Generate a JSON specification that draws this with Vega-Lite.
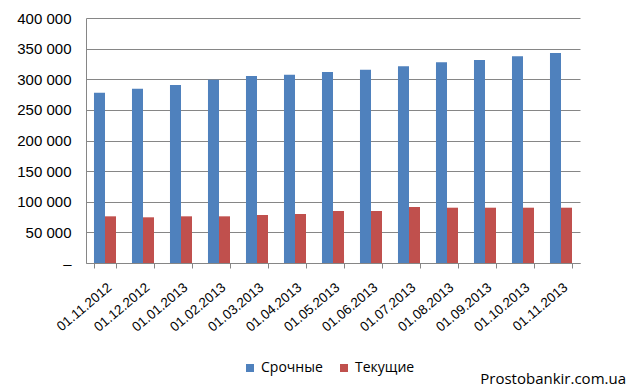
{
  "$schema": "https://vega.github.io/schema/vega-lite/v6.json",
  "width": 494,
  "height": 245,
  "autosize": {"type": "none"},
  "padding": {"left": 86, "top": 18, "right": 60, "bottom": 128},
  "background": "white",
  "config": {"view": {"stroke": null}, "font": "Liberation Sans"},
  "title": {
    "text": "Prostobankir.com.ua",
    "orient": "bottom",
    "anchor": "end",
    "frame": "group",
    "font": "Open Sans",
    "fontSize": 15,
    "fontWeight": "normal",
    "color": "#000000",
    "offset": -3,
    "dx": 46
  },
  "data": {
    "values": [
      {"date": "01.11.2012", "type": "Срочные", "value": 278000},
      {"date": "01.12.2012", "type": "Срочные", "value": 284600},
      {"date": "01.01.2013", "type": "Срочные", "value": 290600},
      {"date": "01.02.2013", "type": "Срочные", "value": 299300},
      {"date": "01.03.2013", "type": "Срочные", "value": 305300},
      {"date": "01.04.2013", "type": "Срочные", "value": 307400},
      {"date": "01.05.2013", "type": "Срочные", "value": 311800},
      {"date": "01.06.2013", "type": "Срочные", "value": 315600},
      {"date": "01.07.2013", "type": "Срочные", "value": 321100},
      {"date": "01.08.2013", "type": "Срочные", "value": 327600},
      {"date": "01.09.2013", "type": "Срочные", "value": 331400},
      {"date": "01.10.2013", "type": "Срочные", "value": 337500},
      {"date": "01.11.2013", "type": "Срочные", "value": 342900},
      {"date": "01.11.2012", "type": "Текущие", "value": 76200},
      {"date": "01.12.2012", "type": "Текущие", "value": 74600},
      {"date": "01.01.2013", "type": "Текущие", "value": 76200},
      {"date": "01.02.2013", "type": "Текущие", "value": 76200},
      {"date": "01.03.2013", "type": "Текущие", "value": 78400},
      {"date": "01.04.2013", "type": "Текущие", "value": 80000},
      {"date": "01.05.2013", "type": "Текущие", "value": 84900},
      {"date": "01.06.2013", "type": "Текущие", "value": 84900},
      {"date": "01.07.2013", "type": "Текущие", "value": 91400},
      {"date": "01.08.2013", "type": "Текущие", "value": 90300},
      {"date": "01.09.2013", "type": "Текущие", "value": 90300},
      {"date": "01.10.2013", "type": "Текущие", "value": 90300},
      {"date": "01.11.2013", "type": "Текущие", "value": 90300}
    ]
  },
  "mark": {"type": "bar"},
  "encoding": {
    "x": {
      "field": "date",
      "type": "nominal",
      "sort": null,
      "scale": {"paddingInner": 0.42, "paddingOuter": 0.21},
      "axis": {
        "title": null,
        "labelAngle": -40,
        "labelFontSize": 13.5,
        "labelColor": "#000000",
        "labelAlign": "right",
        "labelBaseline": "top",
        "tickBand": "extent",
        "tickSize": 5,
        "tickColor": "#868686",
        "domainColor": "#868686",
        "labelPadding": 12
      }
    },
    "xOffset": {"field": "type", "type": "nominal", "sort": ["Срочные", "Текущие"], "scale": {"paddingInner": 0, "paddingOuter": 0}},
    "y": {
      "field": "value",
      "type": "quantitative",
      "scale": {"domain": [0, 400000], "nice": false},
      "axis": {
        "title": null,
        "values": [0, 50000, 100000, 150000, 200000, 250000, 300000, 350000, 400000],
        "labelExpr": "datum.value == 0 ? '–' : replace(format(datum.value, ','), ',', ' ')",
        "labelFontSize": 15,
        "labelColor": "#000000",
        "ticks": false,
        "labelPadding": 15,
        "domainColor": "#868686",
        "gridColor": "#868686",
        "grid": true
      }
    },
    "color": {
      "field": "type",
      "type": "nominal",
      "sort": ["Срочные", "Текущие"],
      "scale": {"domain": ["Срочные", "Текущие"], "range": ["#4F81BD", "#C0504D"]},
      "legend": {
        "title": null,
        "orient": "none",
        "direction": "horizontal",
        "legendX": 157,
        "legendY": 343,
        "symbolType": "square",
        "symbolSize": 64,
        "symbolStrokeWidth": 0,
        "symbolOpacity": 1,
        "labelFont": "Open Sans",
        "labelFontSize": 14,
        "labelColor": "#000000",
        "columnPadding": 14,
        "labelOffset": 4
      }
    }
  }
}
